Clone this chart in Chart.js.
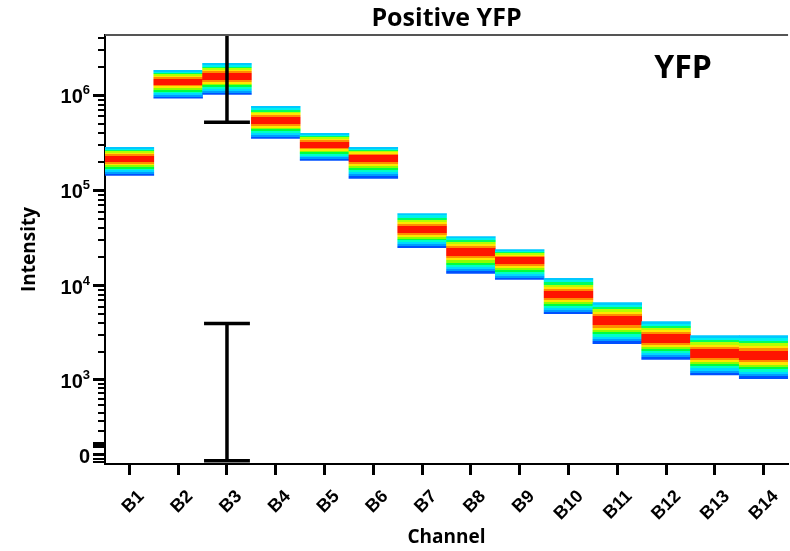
<!DOCTYPE html>
<html>
<head>
  <title>Positive YFP</title>
  <script src="https://cdn.jsdelivr.net/npm/chart.js"></script>
  <style>
    body { margin: 0; background: #fff; }
  </style>
</head>
<body>
  <canvas id="chart" width="790" height="551"></canvas>
  <script>
    // channels and the intensity band of each one (low edge, densest point, high edge)
    const channels = ['B1', 'B2', 'B3', 'B4', 'B5', 'B6', 'B7', 'B8', 'B9', 'B10', 'B11', 'B12', 'B13', 'B14'];
    const bandLow  = [1.44e5, 9.3e5, 1.02e6, 3.52e5, 2.07e5, 1.34e5, 2.51e4, 1.34e4, 1.16e4, 5.07e3, 2.45e3, 1.66e3, 1.13e3, 1.03e3];
    const bandPeak = [2.17e5, 1.40e6, 1.58e6, 5.45e5, 3.05e5, 2.22e5, 3.88e4, 2.28e4, 1.88e4, 8.04e3, 4.28e3, 2.77e3, 1.92e3, 1.83e3];
    const bandHigh = [2.84e5, 1.83e6, 2.17e6, 7.66e5, 3.98e5, 2.84e5, 5.73e4, 3.28e4, 2.39e4, 1.19e4, 6.62e3, 4.18e3, 2.98e3, 2.98e3];

    // gates drawn on B3
    const gateChannel = 2;
    const gateLow  = [5.2e5, -48];
    const gateHigh = [1e7, 4.0e3];

    // axis
    const yMinValue = -75;
    const yMaxValue = 4.3e6;
    const majorTicks = [0, 1e3, 1e4, 1e5, 1e6];
    const majorBase = ['0', '10', '10', '10', '10'];
    const majorExp = ['', '3', '4', '5', '6'];
    const minorTicks = [200, 300, 400, 500, 600, 700, 800, 900,
      2e3, 3e3, 4e3, 5e3, 6e3, 7e3, 8e3, 9e3,
      2e4, 3e4, 4e4, 5e4, 6e4, 7e4, 8e4, 9e4,
      2e5, 3e5, 4e5, 5e5, 6e5, 7e5, 8e5, 9e5,
      2e6, 3e6, 4e6];
    const zeroTicks = [100, 80, 60, -30, -60];

    // biexponential-like display transform
    const biex = v => Math.asinh(v / 334) / Math.LN10;

    // stripe colours, top edge -> peak and peak -> bottom edge
    const UPPER = ['#00c8ff', '#00f0ee', '#00ff60', '#b4ff00', '#ffe600', '#ff8c00', '#ff1400', '#ff1400'];
    const LOWER = ['#ff1400', '#ff1400', '#ff8c00', '#ffe600', '#8cff00', '#00ff40', '#00ffc8', '#00d8ff', '#009cff', '#0050ff'];

    function bandFill(ctx) {
      const chart = ctx.chart;
      const y = chart.scales.y;
      const i = ctx.dataIndex;
      if (!chart.chartArea || !y || i === undefined) return '#ff1400';
      const top = y.getPixelForValue(biex(bandHigh[i]));
      const bot = y.getPixelForValue(biex(bandLow[i]));
      const mid = y.getPixelForValue(biex(bandPeak[i]));
      const p = (mid - top) / (bot - top);
      const g = chart.ctx.createLinearGradient(0, top, 0, bot);
      UPPER.forEach((c, k) => {
        g.addColorStop(p * k / UPPER.length, c);
        g.addColorStop(p * (k + 1) / UPPER.length, c);
      });
      LOWER.forEach((c, k) => {
        g.addColorStop(p + (1 - p) * k / LOWER.length, c);
        g.addColorStop(Math.min(1, p + (1 - p) * (k + 1) / LOWER.length), c);
      });
      return g;
    }

    const gateData = [];
    gateLow.forEach((lo, k) => {
      const hi = gateHigh[k];
      gateData.push({ x: gateChannel - 0.47, y: biex(lo) }, { x: gateChannel + 0.47, y: biex(lo) }, { x: gateChannel, y: null });
      gateData.push({ x: gateChannel, y: biex(lo) }, { x: gateChannel, y: biex(hi) }, { x: gateChannel, y: null });
      gateData.push({ x: gateChannel - 0.47, y: biex(hi) }, { x: gateChannel + 0.47, y: biex(hi) }, { x: gateChannel, y: null });
    });

    const decor = {
      id: 'decor',
      afterDraw(chart) {
        const { ctx, chartArea: a, scales: { y } } = chart;
        ctx.save();
        ctx.strokeStyle = '#000';
        ctx.lineWidth = 2;
        minorTicks.forEach(v => {
          const py = Math.round(y.getPixelForValue(biex(v)));
          ctx.beginPath(); ctx.moveTo(a.left - 7, py); ctx.lineTo(a.left, py); ctx.stroke();
        });
        zeroTicks.forEach(v => {
          const py = Math.round(y.getPixelForValue(biex(v)));
          ctx.beginPath(); ctx.moveTo(a.left - 12, py); ctx.lineTo(a.left, py); ctx.stroke();
        });
        ctx.strokeStyle = '#555';
        ctx.beginPath(); ctx.moveTo(a.left, a.top); ctx.lineTo(a.right, a.top); ctx.stroke();

        // y tick labels with superscript exponents
        ctx.fillStyle = '#000';
        ctx.textAlign = 'left';
        ctx.textBaseline = 'alphabetic';
        const right = a.left - 15;
        majorTicks.forEach((v, i) => {
          const py = y.getPixelForValue(biex(v));
          ctx.font = 'bold 13px "Liberation Sans", Arial, sans-serif';
          const ew = majorExp[i] ? ctx.measureText(majorExp[i]).width : 0;
          ctx.font = 'bold 20px "Liberation Sans", Arial, sans-serif';
          const bw = ctx.measureText(majorBase[i]).width;
          ctx.fillText(majorBase[i], right - ew - bw, py + 8);
          if (majorExp[i]) {
            ctx.font = 'bold 13px "Liberation Sans", Arial, sans-serif';
            ctx.fillText(majorExp[i], right - ew, py - 1);
          }
        });

        ctx.font = 'bold 32px "Open Sans", sans-serif';
        ctx.textAlign = 'center';
        ctx.textBaseline = 'middle';
        ctx.fillText('YFP', a.right - 105, a.top + 34);
        ctx.restore();
      }
    };

    new Chart(document.getElementById('chart'), {
      type: 'bar',
      data: {
        labels: channels,
        datasets: [{
          type: 'line',
          xAxisID: 'x2',
          data: gateData,
          borderColor: '#000',
          borderWidth: 3.5,
          pointRadius: 0,
          spanGaps: false,
          order: 0
        }, {
          data: channels.map((c, i) => [biex(bandLow[i]), biex(bandHigh[i])]),
          backgroundColor: bandFill,
          borderWidth: 0,
          barPercentage: 1,
          categoryPercentage: 1,
          grouped: false,
          order: 1
        }]
      },
      options: {
        responsive: false,
        animation: false,
        layout: { padding: 0 },
        plugins: {
          legend: { display: false },
          tooltip: { enabled: false },
          title: {
            display: true,
            text: 'Positive YFP',
            fullSize: false,
            color: '#000',
            font: { family: '"Open Sans", sans-serif', weight: 'bold', size: 25, lineHeight: '24px' },
            padding: { top: 7, bottom: 4 }
          }
        },
        scales: {
          x: {
            type: 'category',
            offset: true,
            afterFit: s => { s.height = 87; },
            grid: { drawOnChartArea: false, offset: false, tickLength: 11, tickWidth: 3, tickColor: '#000' },
            border: { color: '#000', width: 2 },
            ticks: {
              autoSkip: false, maxRotation: 45, minRotation: 45, padding: 11, labelOffset: 12, color: '#000',
              font: { family: '"Liberation Sans", Arial, sans-serif', weight: 'bold', size: 18 }
            },
            title: {
              display: true, text: 'Channel', color: '#000',
              font: { family: '"Open Sans", sans-serif', weight: 'bold', size: 19, lineHeight: '20px' },
              padding: { top: 0, bottom: 3 }
            }
          },
          x2: {
            type: 'linear', display: false, offset: false, bounds: 'data', grace: 0,
            min: -0.5, max: channels.length - 0.5
          },
          y: {
            type: 'linear',
            min: biex(yMinValue),
            max: biex(yMaxValue),
            afterBuildTicks: s => { s.ticks = majorTicks.map(v => ({ value: biex(v) })); },
            afterFit: s => { s.width = 105; },
            grid: { drawOnChartArea: false, tickLength: 12, tickWidth: 3, tickColor: '#000' },
            border: { color: '#000', width: 2 },
            ticks: { callback: () => '', padding: 0 },
            title: {
              display: true, text: 'Intensity', color: '#000',
              font: { family: '"Open Sans", sans-serif', weight: 'bold', size: 19, lineHeight: '20px' },
              padding: { top: 20, bottom: 0 }
            }
          }
        }
      },
      plugins: [decor]
    });
  </script>
</body>
</html>
